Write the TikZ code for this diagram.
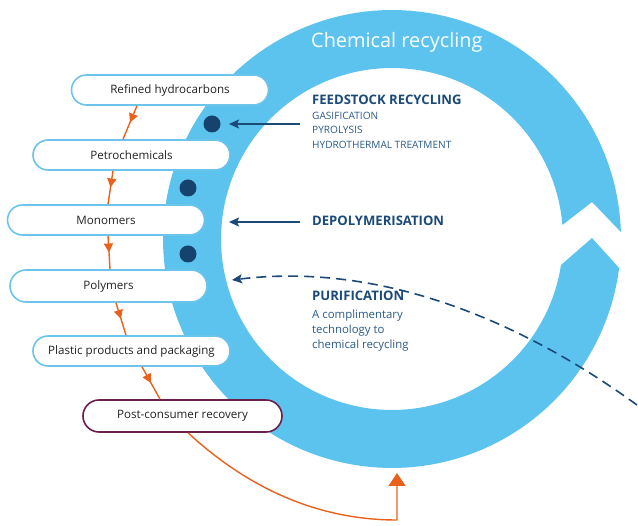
\documentclass[tikz,border=0pt]{standalone}
\usepackage{fontspec}
\setmainfont{Open Sans}
\usetikzlibrary{arrows.meta,decorations.markings,calc}
\definecolor{ringblue}{HTML}{5CC3EE}
\definecolor{boxblue}{HTML}{6CC4EA}
\definecolor{navy}{HTML}{1B4A78}
\definecolor{navytxt}{HTML}{2A5A88}
\definecolor{dotnavy}{HTML}{16426E}
\definecolor{orng}{HTML}{E8621E}
\definecolor{plum}{HTML}{6B1F4B}
\definecolor{txt}{HTML}{222222}
\begin{document}
\begin{tikzpicture}[x=1pt,y=-1pt,
  stage/.style={draw=boxblue, line width=1.6pt, fill=white, rounded corners=15pt,
    minimum width=197pt, minimum height=30pt, inner sep=0pt,
    font=\fontsize{11.6}{13}\selectfont, text=txt},
  flow/.style={draw=orng, color=orng, line width=1.4pt, postaction={decorate},
    decoration={markings, mark=at position 0.5 with {\arrow{Triangle[width=9pt,length=9pt]}}}},
  dot/.style={circle, fill=dotnavy, minimum size=17pt, inner sep=0pt},
  feed/.style={draw=navy, line width=1.6pt, -{Stealth[length=10pt,width=9pt,inset=2pt]}},
  head/.style={anchor=west, inner sep=0pt, text=navy, font=\fontsize{13.1}{15}\selectfont\bfseries},
  sub/.style={anchor=west, inner sep=0pt, text=navytxt, font=\fontsize{10.1}{11}\selectfont},
  desc/.style={anchor=west, inner sep=0pt, text=navytxt, font=\fontsize{11.4}{15}\selectfont, align=left}
]
\useasboundingbox (0,0) rectangle (638,526);

% ring
\fill[ringblue]
  plot[domain=7.28:358.25, samples=160] ({392+229*cos(\x)},{239+229*sin(\x)})
  -- (592,202)
  -- plot[domain=355.3:8.75, samples=160] ({392+171*cos(\x)},{239+171*sin(\x)})
  -- (592,238) -- cycle;

\node[anchor=west, inner sep=0pt, text=white, font=\fontsize{19.9}{22}\selectfont] (title) at (311,42) {Chemical recycling};

% stages
\node[stage] (ref) at (170,90) {Refined hydrocarbons};
\node[stage] (petro) at (131.5,155) {Petrochemicals};
\node[stage] (mono) at (106,220) {Monomers};
\node[stage, minimum height=32pt, rounded corners=16pt] (poly) at (108.5,286) {Polymers};
\node[stage] (plast) at (131.5,351) {Plastic products and packaging};
\node[stage, draw=plum, minimum width=199pt, minimum height=32pt, rounded corners=16pt] (post) at (182.5,416) {Post-consumer recovery};

% dots
\node[dot] (d1) at (212,124) {};
\node[dot] (d2) at (188,188) {};
\node[dot] (d3) at (188,254) {};

% orange flow
\draw[flow] ([xshift=-33pt]ref.south) -- ([xshift=-8.5pt]petro.north);
\draw[flow] ([xshift=-18.5pt]petro.south) -- ([xshift=2pt]mono.north);
\draw[flow] ([xshift=2pt]mono.south) -- ([xshift=1.5pt]poly.north);
\draw[flow] ([xshift=7.5pt]poly.south) -- ([xshift=-5.5pt]plast.north);
\draw[flow] ([xshift=10.5pt]plast.south) -- ([xshift=-22.5pt]post.north);
\coordinate (ringin) at (397,473);
\coordinate (corner) at (397,520);
\draw[draw=orng, line width=1.4pt, -{Triangle[width=17pt,length=13pt]}]
  ([xshift=5.5pt]post.south) .. controls (250,490) and (320,520) .. (corner) -- (ringin);

% texts
\node[head] (fs) at (312,100) {FEEDSTOCK RECYCLING};
\node[sub] (gas) at (312,115.5) {GASIFICATION};
\node[sub] (pyr) at (312,130) {PYROLYSIS};
\node[sub] (hyd) at (312,144.5) {HYDROTHERMAL TREATMENT};
\node[head] (dep) at (312,221) {DEPOLYMERISATION};
\node[head] (pur) at (312,296) {PURIFICATION};
\node[desc, anchor=north west] (purd) at (312,309.5) {A complimentary\\technology to\\chemical recycling};

% navy arrows
\coordinate (a1s) at (300,124);
\coordinate (a1e) at (229,124);
\coordinate (a2s) at (300,222);
\coordinate (a2e) at (229,222);
\coordinate (a3s) at (637,405);
\coordinate (a3e) at (232,280);
\draw[feed] (a1s) -- (a1e);
\draw[feed] (a2s) -- (a2e);
\draw[feed, dash pattern=on 10pt off 6pt] (a3s) .. controls (520,320) and (380,262) .. (a3e);
\end{tikzpicture}
\end{document}
